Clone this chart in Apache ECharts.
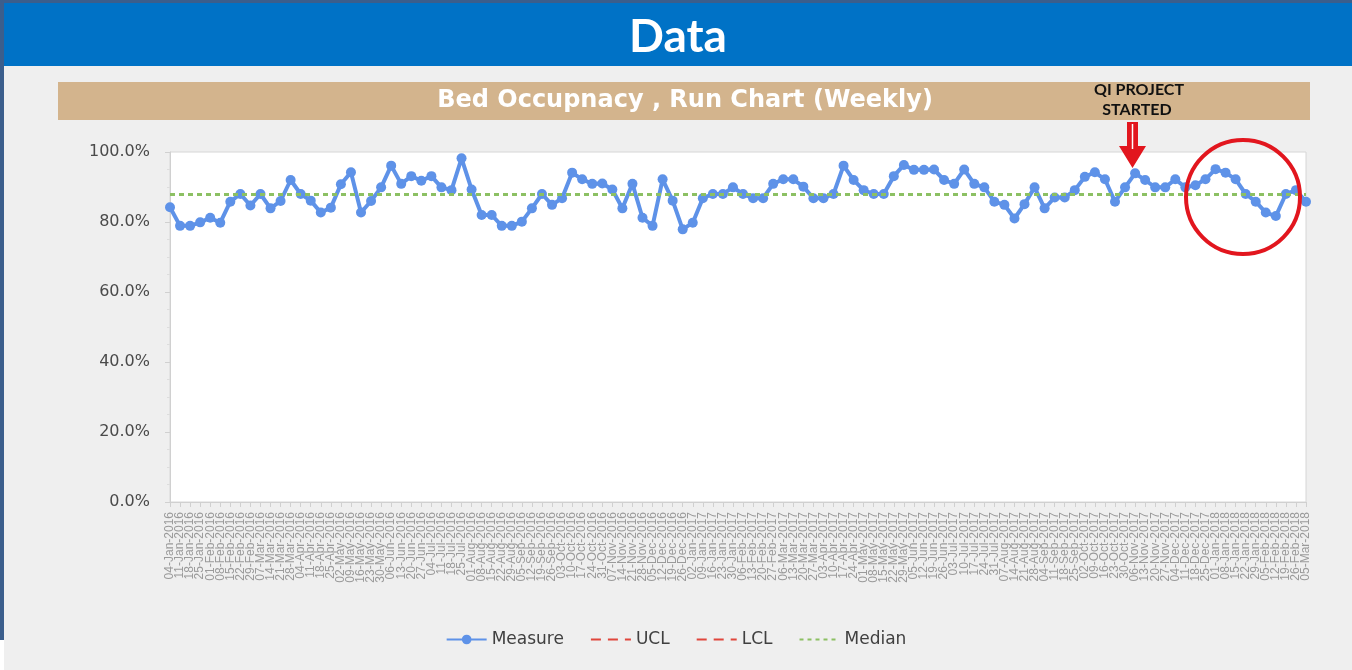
<!DOCTYPE html>
<html>
<head>
<meta charset="utf-8">
<script src="https://cdn.jsdelivr.net/npm/echarts@6/dist/echarts.min.js"></script>
<style>
html,body{margin:0;padding:0;background:#EFEFEF;}
#chart{width:1352px;height:670px;}
</style>
</head>
<body>
<div id="chart"></div>
<script>
// Weekly categories (week starting dates)
const weeks = [
'04-Jan-2016','11-Jan-2016','18-Jan-2016','25-Jan-2016','01-Feb-2016','08-Feb-2016','15-Feb-2016','22-Feb-2016','29-Feb-2016','07-Mar-2016',
'14-Mar-2016','21-Mar-2016','28-Mar-2016','04-Apr-2016','11-Apr-2016','18-Apr-2016','25-Apr-2016','02-May-2016','09-May-2016','16-May-2016',
'23-May-2016','30-May-2016','06-Jun-2016','13-Jun-2016','20-Jun-2016','27-Jun-2016','04-Jul-2016','11-Jul-2016','18-Jul-2016','25-Jul-2016',
'01-Aug-2016','08-Aug-2016','15-Aug-2016','22-Aug-2016','29-Aug-2016','05-Sep-2016','12-Sep-2016','19-Sep-2016','26-Sep-2016','03-Oct-2016',
'10-Oct-2016','17-Oct-2016','24-Oct-2016','31-Oct-2016','07-Nov-2016','14-Nov-2016','21-Nov-2016','28-Nov-2016','05-Dec-2016','12-Dec-2016',
'19-Dec-2016','26-Dec-2016','02-Jan-2017','09-Jan-2017','16-Jan-2017','23-Jan-2017','30-Jan-2017','06-Feb-2017','13-Feb-2017','20-Feb-2017',
'27-Feb-2017','06-Mar-2017','13-Mar-2017','20-Mar-2017','27-Mar-2017','03-Apr-2017','10-Apr-2017','17-Apr-2017','24-Apr-2017','01-May-2017',
'08-May-2017','15-May-2017','22-May-2017','29-May-2017','05-Jun-2017','12-Jun-2017','19-Jun-2017','26-Jun-2017','03-Jul-2017','10-Jul-2017',
'17-Jul-2017','24-Jul-2017','31-Jul-2017','07-Aug-2017','14-Aug-2017','21-Aug-2017','28-Aug-2017','04-Sep-2017','11-Sep-2017','18-Sep-2017',
'25-Sep-2017','02-Oct-2017','09-Oct-2017','16-Oct-2017','23-Oct-2017','30-Oct-2017','06-Nov-2017','13-Nov-2017','20-Nov-2017','27-Nov-2017',
'04-Dec-2017','11-Dec-2017','18-Dec-2017','25-Dec-2017','01-Jan-2018','08-Jan-2018','15-Jan-2018','22-Jan-2018','29-Jan-2018','05-Feb-2018',
'12-Feb-2018','19-Feb-2018','26-Feb-2018','05-Mar-2018'
];

// Bed occupancy measure (%)
const measure = [
84.2,78.9,78.9,79.9,81.2,79.8,85.8,88,84.7,88,
83.9,86,92,88,86.1,82.7,84.1,90.8,94.2,82.7,
86,89.9,96.1,90.9,93.1,91.8,93.1,89.9,89.1,98.2,
89.3,82,82,78.9,78.9,80.1,83.9,88,84.9,86.8,
94.1,92.2,90.9,91,89.3,83.9,90.9,81.2,78.9,92.2,
86.1,77.9,79.8,86.8,88,88,89.9,88,86.8,86.8,
90.9,92.2,92.2,90.1,86.8,86.8,88,96.1,92,89.1,
88,88,93.1,96.3,94.9,94.9,95,92,90.9,95,
90.9,89.9,85.8,84.9,81,85.1,89.9,83.9,87,87,
89.1,92.9,94.2,92.2,85.8,89.9,93.9,92,89.9,89.9,
92.2,89.9,90.5,92.2,95.1,94.1,92.2,88,85.8,82.7,
81.7,88,89.1,85.8
];

const median = 88;
const ucl = [];
const lcl = [];
const yTicks = [0, 20, 40, 60, 80, 100];

const chart = echarts.init(document.getElementById('chart'), null, {renderer: 'canvas'});

const option = {
  backgroundColor: '#EFEFEF',
  animation: false,
  grid: {
    left: 170, right: 46, top: 152, bottom: 168,
    show: true, backgroundColor: '#FFFFFF', borderColor: '#D6D6D6', borderWidth: 1
  },
  legend: {
    left: 'center', top: 626,
    itemWidth: 40, itemHeight: 12, itemGap: 26,
    textStyle: {fontFamily: 'DejaVu Sans', fontSize: 17, color: '#404040'},
    data: [
      {name: 'Measure'},
      {name: 'UCL', itemStyle: {opacity: 0}},
      {name: 'LCL', itemStyle: {opacity: 0}},
      {name: 'Median', itemStyle: {opacity: 0}}
    ]
  },
  xAxis: {
    type: 'category',
    data: weeks,
    boundaryGap: false,
    axisLine: {lineStyle: {color: '#D0D0D0'}},
    axisTick: {show: true, interval: 0, length: 5, lineStyle: {color: '#D0D0D0'}},
    axisLabel: {interval: 0, rotate: 90, fontSize: 12, color: '#9A9A9A', fontFamily: 'Liberation Sans', margin: 10},
    splitLine: {show: false}
  },
  yAxis: {
    type: 'value',
    min: yTicks[0], max: yTicks[yTicks.length - 1], interval: 20,
    axisLine: {show: true, lineStyle: {color: '#D0D0D0'}},
    axisTick: {show: true, length: 5, lineStyle: {color: '#D0D0D0'}},
    minorTick: {show: true, splitNumber: 4, length: 3, lineStyle: {color: '#DDDDDD'}},
    axisLabel: {formatter: v => v.toFixed(1) + '%', fontSize: 16, color: '#4A4A4A', fontFamily: 'DejaVu Sans', margin: 20},
    splitLine: {show: false}
  },
  series: [
    {
      name: 'Measure', type: 'line', data: measure,
      symbol: 'circle', symbolSize: 10,
      lineStyle: {color: '#5E92E8', width: 4},
      itemStyle: {color: '#5E92E8'},
      z: 3
    },
    {
      name: 'UCL', type: 'line', data: ucl, symbol: 'none',
      lineStyle: {color: '#E0463C', width: 3, type: [10, 7]},
      itemStyle: {color: '#E0463C'}
    },
    {
      name: 'LCL', type: 'line', data: lcl, symbol: 'none',
      lineStyle: {color: '#E0463C', width: 3, type: [10, 7]},
      itemStyle: {color: '#E0463C'}
    },
    {
      name: 'Median', type: 'line', data: [], symbol: 'none',
      lineStyle: {color: '#8CC063', width: 3, type: [4, 4]},
      itemStyle: {color: '#8CC063'},
      markLine: {
        silent: true, symbol: 'none', label: {show: false},
        lineStyle: {color: '#8CC063', width: 3, type: [5, 4]},
        data: [{yAxis: median}]
      },
      z: 2
    }
  ],
  graphic: [
    {type: 'rect', shape: {x: 0, y: 0, width: 1352, height: 66}, style: {fill: '#0072C6'}, z: 1},
    {type: 'rect', shape: {x: 0, y: 0, width: 1352, height: 3}, style: {fill: '#3B5E8C'}, z: 2},
    {type: 'rect', shape: {x: 0, y: 0, width: 4, height: 640}, style: {fill: '#3B5E8C'}, z: 2},
    {type: 'rect', shape: {x: 0, y: 640, width: 4, height: 30}, style: {fill: '#FFFFFF'}, z: 2},
    {type: 'text', x: 678, y: 37, style: {text: 'Data', fill: '#FFFFFF', font: 'bold 46px Lato', align: 'center', verticalAlign: 'middle'}, z: 3},
    {type: 'rect', shape: {x: 58, y: 82, width: 1252, height: 38}, style: {fill: '#D3B48D'}, z: 1},
    {type: 'text', x: 685, y: 101, style: {text: 'Bed Occupnacy , Run Chart (Weekly)', fill: '#FFFFFF', font: 'bold 24px "DejaVu Sans"', align: 'center', verticalAlign: 'middle'}, z: 3},
    {type: 'text', x: 1139, y: 90, style: {text: 'QI PROJECT', fill: '#111111', font: 'bold 16px Lato', align: 'center', verticalAlign: 'middle'}, z: 3},
    {type: 'text', x: 1137, y: 110, style: {text: 'STARTED', fill: '#111111', font: 'bold 16px Lato', align: 'center', verticalAlign: 'middle'}, z: 3},
    {type: 'polygon', shape: {points: [[1127,122],[1138,122],[1138,146],[1146,146],[1132.5,168],[1119,146],[1127,146]]}, style: {fill: '#E2161E'}, z: 10},
    {type: 'line', shape: {x1: 1132.5, y1: 124, x2: 1132.5, y2: 149}, style: {stroke: '#FFFFFF', lineWidth: 1.5}, z: 11},
    {type: 'ellipse', shape: {cx: 1243, cy: 197, rx: 57, ry: 57}, style: {fill: 'none', stroke: '#E2161E', lineWidth: 4}, z: 10}
  ]
};
chart.setOption(option);
</script>
</body>
</html>
